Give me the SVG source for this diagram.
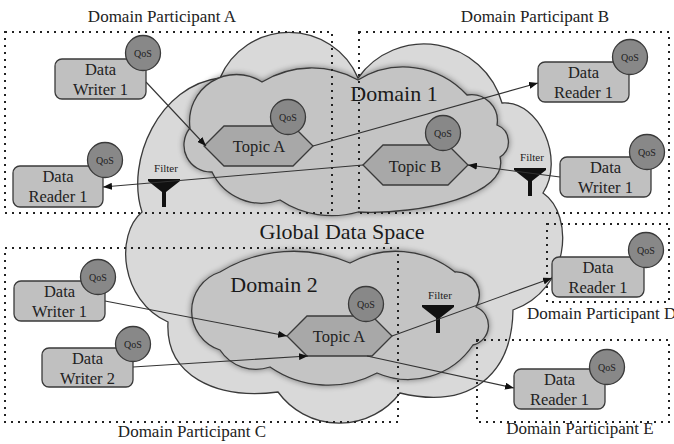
<svg xmlns="http://www.w3.org/2000/svg" xmlns:xlink="http://www.w3.org/1999/xlink" width="674" height="444" viewBox="0 0 674 444">
<style>
  text { font-family: 'Liberation Serif', 'Times New Roman', serif; fill: #222; }
  .global { fill: #d9d9d9; stroke: #3a3a3a; stroke-width: 1.3; }
  .domain { fill: #c4c4c4; stroke: #3a3a3a; stroke-width: 1.3; filter: url(#sh); }
  .dots { fill: none; stroke: #222; stroke-width: 2; stroke-dasharray: 2 5; }
  .plabel { font-size: 17px; }
  .big { font-size: 22px; fill: #1a1a1a; }
  .box { fill: #c0c0c0; stroke: #3a3a3a; stroke-width: 1.3; }
  .hex { fill: #a8a8a8; stroke: #3a3a3a; stroke-width: 1.3; }
  .qos { fill: #888; stroke: #3a3a3a; stroke-width: 1.3; }
  .qt { font-size: 10px; text-anchor: middle; }
  .nt { font-size: 16.5px; text-anchor: middle; }
  .ft { font-size: 11px; text-anchor: middle; }
  .conn { fill: none; stroke: #333; stroke-width: 1.1; marker-end: url(#ah); }
</style>
<defs>
  <filter id="sh" x="-15%" y="-15%" width="130%" height="130%">
    <feGaussianBlur in="SourceAlpha" stdDeviation="3"/>
    <feComponentTransfer><feFuncA type="linear" slope="0.45"/></feComponentTransfer>
    <feMerge><feMergeNode/><feMergeNode in="SourceGraphic"/></feMerge>
  </filter>
  <marker id="ah" viewBox="0 0 9 7" refX="9" refY="3.5" markerWidth="9" markerHeight="7" markerUnits="userSpaceOnUse" orient="auto">
    <path d="M0,0 L9,3.5 L0,7 Z" fill="#111"/>
  </marker>
  <polygon id="funnel" points="-16,0 16,0 16,2 2,13 2,28 -2,28 -2,13 -16,2" fill="#111"/>
</defs>

<g id="global-data-space">
  <path class="global" d="M142,212 C125,160 160,85 220,78 A75,75 0 0 1 358,78 A81,81 0 0 1 502,103 C540,100 565,160 543,193 C575,215 570,290 513,310 C512,375 470,410 400,393 A76,76 0 0 1 278,392 C215,400 165,375 168,322 C120,300 115,235 142,212 Z"/>
  <text class="big" x="342" y="239" text-anchor="middle">Global Data Space</text>
</g>

<g id="domain-1">
  <path class="domain" d="M190,128 A47,47 0 0 1 262,82 A95,95 0 0 1 358,80 A86,86 0 0 1 467,95 A26,26 0 0 1 497,125 A18,18 0 0 1 500,157 C510,195 420,215 358,212 A94,94 0 0 1 280,200 A55,55 0 0 1 212,172 A27,27 0 0 1 190,128 Z"/>
  <text class="big" x="394" y="101" text-anchor="middle">Domain 1</text>
</g>

<g id="domain-2">
  <path class="domain" d="M220,272 A141,141 0 0 1 350,263 A95,95 0 0 1 455,272 A23,23 0 0 1 476,307 A20,20 0 0 1 473,345 A78,78 0 0 1 377,373 A103,103 0 0 1 270,367 A43,43 0 0 1 220,350 A41,41 0 0 1 220,272 Z"/>
  <text class="big" x="274" y="292" text-anchor="middle">Domain 2</text>
</g>

<g id="participant-a">
  <rect class="dots" x="5" y="32" width="327" height="181"/>
  <text class="plabel" x="162" y="22" text-anchor="middle">Domain Participant A</text>
</g>
<g id="participant-b">
  <rect class="dots" x="359" y="32" width="310" height="181"/>
  <text class="plabel" x="535" y="22" text-anchor="middle">Domain Participant B</text>
</g>
<g id="participant-c">
  <rect class="dots" x="5" y="248" width="393" height="174"/>
  <text class="plabel" x="192" y="437" text-anchor="middle">Domain Participant C</text>
</g>
<g id="participant-d">
  <rect class="dots" x="547" y="224" width="122" height="78"/>
  <text class="plabel" x="527" y="319">Domain Participant D</text>
</g>
<g id="participant-e">
  <rect class="dots" x="477" y="340" width="192" height="82"/>
  <text class="plabel" x="580" y="434" text-anchor="middle">Domain Participant E</text>
</g>

<g id="topic-a-domain1">
  <polygon class="hex" points="204,146 224,126 293,126 313,146 293,166 224,166"/>
  <circle class="qos" cx="288" cy="117" r="17.5"/>
  <text class="qt" x="288" y="120.5">QoS</text>
  <text class="nt" x="259" y="152">Topic A</text>
</g>
<g id="topic-b-domain1">
  <polygon class="hex" points="363,165 383,145 448,145 468,165 448,185 383,185"/>
  <circle class="qos" cx="443" cy="133" r="17.5"/>
  <text class="qt" x="443" y="136.5">QoS</text>
  <text class="nt" x="415" y="172">Topic B</text>
</g>
<g id="topic-a-domain2">
  <polygon class="hex" points="287,336 307,316 372,316 392,336 372,356 307,356"/>
  <circle class="qos" cx="366" cy="304" r="17.5"/>
  <text class="qt" x="366" y="307.5">QoS</text>
  <text class="nt" x="339" y="342">Topic A</text>
</g>

<g id="filter-a">
  <use xlink:href="#funnel" x="164" y="179"/>
  <text class="ft" x="166" y="172">Filter</text>
</g>
<g id="filter-b">
  <use xlink:href="#funnel" x="530" y="168"/>
  <text class="ft" x="532" y="161">Filter</text>
</g>
<g id="filter-d">
  <use xlink:href="#funnel" x="438" y="305"/>
  <text class="ft" x="440" y="299">Filter</text>
</g>

<g id="connectors">
  <line class="conn" x1="146" y1="82" x2="206" y2="146"/>
  <line class="conn" x1="313" y1="146" x2="538" y2="83"/>
  <line class="conn" x1="363" y1="165" x2="103" y2="187"/>
  <line class="conn" x1="560" y1="177" x2="468" y2="165"/>
  <line class="conn" x1="105" y1="301" x2="287" y2="336"/>
  <line class="conn" x1="133" y1="367" x2="308" y2="356"/>
  <line class="conn" x1="392" y1="336" x2="552" y2="278"/>
  <line class="conn" x1="367" y1="356" x2="514" y2="388"/>
</g>

<g id="writer-a1">
  <rect class="box" x="55" y="59" width="91" height="40" rx="7"/>
  <circle class="qos" cx="143" cy="53" r="17.5"/>
  <text class="qt" x="143" y="56.5">QoS</text>
  <text class="nt" x="100.5" y="75">Data</text>
  <text class="nt" x="100.5" y="95">Writer 1</text>
</g>
<g id="reader-a1">
  <rect class="box" x="13" y="166" width="90" height="41" rx="7"/>
  <circle class="qos" cx="105" cy="160" r="17.5"/>
  <text class="qt" x="105" y="163.5">QoS</text>
  <text class="nt" x="58" y="182">Data</text>
  <text class="nt" x="58" y="202">Reader 1</text>
</g>
<g id="reader-b1">
  <rect class="box" x="538" y="62" width="91" height="40" rx="7"/>
  <circle class="qos" cx="630" cy="57" r="17.5"/>
  <text class="qt" x="630" y="60.5">QoS</text>
  <text class="nt" x="583.5" y="78">Data</text>
  <text class="nt" x="583.5" y="98">Reader 1</text>
</g>
<g id="writer-b1">
  <rect class="box" x="560" y="157" width="91" height="40" rx="7"/>
  <circle class="qos" cx="647" cy="152" r="17.5"/>
  <text class="qt" x="647" y="155.5">QoS</text>
  <text class="nt" x="605.5" y="173">Data</text>
  <text class="nt" x="605.5" y="193">Writer 1</text>
</g>
<g id="writer-c1">
  <rect class="box" x="14" y="281" width="91" height="40" rx="7"/>
  <circle class="qos" cx="98" cy="277" r="17.5"/>
  <text class="qt" x="98" y="280.5">QoS</text>
  <text class="nt" x="59.5" y="297">Data</text>
  <text class="nt" x="59.5" y="317">Writer 1</text>
</g>
<g id="writer-c2">
  <rect class="box" x="42" y="348" width="91" height="39" rx="7"/>
  <circle class="qos" cx="133" cy="344" r="17.5"/>
  <text class="qt" x="133" y="347.5">QoS</text>
  <text class="nt" x="87.5" y="364">Data</text>
  <text class="nt" x="87.5" y="384">Writer 2</text>
</g>
<g id="reader-d1">
  <rect class="box" x="552" y="257" width="92" height="40" rx="7"/>
  <circle class="qos" cx="646" cy="250" r="17.5"/>
  <text class="qt" x="646" y="253.5">QoS</text>
  <text class="nt" x="598" y="273">Data</text>
  <text class="nt" x="598" y="293">Reader 1</text>
</g>
<g id="reader-e1">
  <rect class="box" x="514" y="369" width="91" height="40" rx="7"/>
  <circle class="qos" cx="607" cy="367" r="17.5"/>
  <text class="qt" x="607" y="370.5">QoS</text>
  <text class="nt" x="559.5" y="385">Data</text>
  <text class="nt" x="559.5" y="405">Reader 1</text>
</g>
</svg>
